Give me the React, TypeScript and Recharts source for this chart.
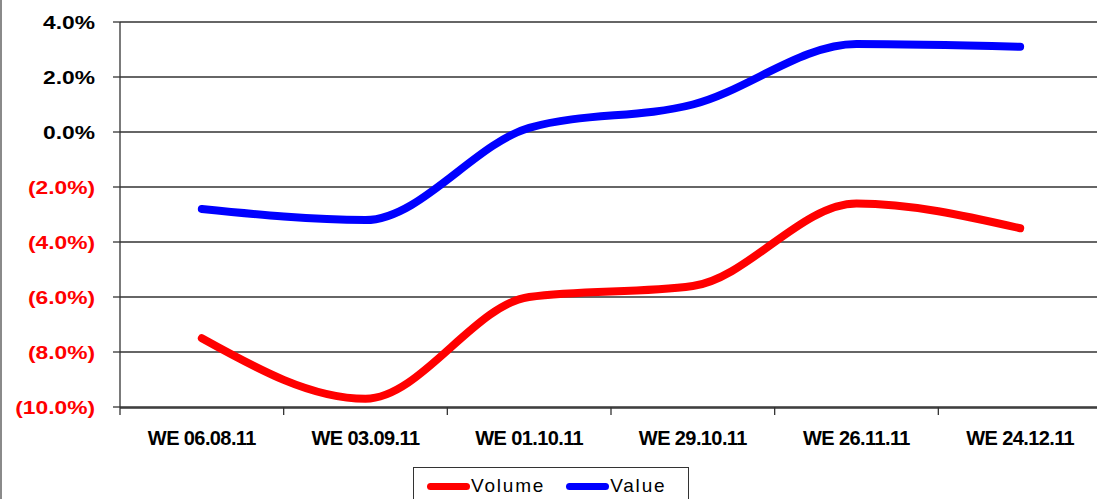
import React from "react";
import { LineChart, Line, XAxis, YAxis, CartesianGrid, Legend } from "recharts";

const weeks = ["WE 06.08.11", "WE 03.09.11", "WE 01.10.11", "WE 29.10.11", "WE 26.11.11", "WE 24.12.11"];
const volume = [-7.5, -9.7, -6.0, -5.6, -2.6, -3.5];
const value = [-2.8, -3.2, 0.15, 1.0, 3.2, 3.1];
const pctTicks = [-10, -8, -6, -4, -2, 0, 2, 4];
const edgeTicks = [0, 1, 2, 3, 4, 5, 6];

const series = [
  { key: "volume", name: "Volume", color: "#FF0000" },
  { key: "value", name: "Value", color: "#0000FF" },
];

// slot = middle of each week's band, used by the tick-mark axis
const data = weeks.map((week, i) => ({ week, slot: i + 0.5, volume: volume[i], value: value[i] }));

const FONT = "'Liberation Sans', Arial, sans-serif";

// negatives shown in red, accountancy style
const PctTick = ({ x, y, payload }: any) => {
  const v = payload.value as number;
  const neg = v < 0;
  const label = neg ? `(${Math.abs(v).toFixed(1)}%)` : `${v.toFixed(1)}%`;
  return (
    <text
      x={x}
      y={y}
      dy="0.355em"
      textAnchor="end"
      fill={neg ? "#FF0000" : "#000000"}
      fontSize={19}
      fontWeight="bold"
      fontFamily={FONT}
      transform={`translate(${x} 0) scale(1.2 1) translate(${-x} 0)`}
    >
      {label}
    </text>
  );
};

const NoLabel = () => <g />;

const LegendBox = () => (
  <div
    style={{
      width: 276,
      height: 42,
      boxSizing: "border-box",
      border: "1.5px solid #333",
      background: "#fff",
      display: "flex",
      alignItems: "center",
      paddingLeft: 13,
      paddingBottom: 4,
      fontFamily: FONT,
      fontSize: 19,
      color: "#000",
    }}
  >
    {series.map((s) => (
      <div key={s.key} style={{ display: "flex", alignItems: "center", marginRight: 21 }}>
        <span style={{ width: 43, height: 7, borderRadius: 4, background: s.color, display: "inline-block" }} />
        <span style={{ marginLeft: 1, letterSpacing: 1.8 }}>{s.name}</span>
      </div>
    ))}
  </div>
);

export default function App() {
  return (
    <div style={{ position: "absolute", left: 0, top: 0, width: 1097, height: 499, overflow: "hidden", background: "#fff" }}>
      <LineChart width={1102} height={499} data={data} margin={{ top: 22, right: 0, bottom: 51, left: 0 }}>
        <CartesianGrid vertical={false} stroke="#333" strokeWidth={1.3} />
        {/* tick marks between weeks */}
        <XAxis
          xAxisId="ax0"
          type="number"
          dataKey="slot"
          domain={[0, 6]}
          ticks={edgeTicks}
          interval={0}
          allowDataOverflow
          tick={<NoLabel />}
          axisLine={false}
          tickSize={8}
          height={1}
          tickLine={{ stroke: "#333", strokeWidth: 1.3 }}
        />
        <XAxis
          xAxisId="ax1"
          dataKey="week"
          scale="band"
          height={40}
          tickSize={0}
          tickMargin={23}
          interval={0}
          axisLine={{ stroke: "#333", strokeWidth: 1.3 }}
          tickLine={false}
          tick={{ fill: "#000", fontSize: 20, fontWeight: "bold", fontFamily: FONT, letterSpacing: -0.6 }}
        />
        <YAxis
          width={120}
          domain={[-10, 4]}
          ticks={pctTicks}
          tickSize={7}
          tickMargin={18}
          axisLine={{ stroke: "#333", strokeWidth: 1.3 }}
          tickLine={{ stroke: "#333", strokeWidth: 1.3 }}
          tick={<PctTick />}
        />
        <Legend
          layout="horizontal"
          verticalAlign="middle"
          align="center"
          content={<LegendBox />}
          wrapperStyle={{ left: 413, top: 467, width: 276, height: 42 }}
        />
        {series.map((s) => (
          <Line
            key={s.key}
            xAxisId="ax1"
            type="monotone"
            dataKey={s.key}
            name={s.name}
            stroke={s.color}
            strokeWidth={8}
            strokeLinecap="round"
            dot={false}
            activeDot={false}
            isAnimationActive={false}
          />
        ))}
      </LineChart>
      <div style={{ position: "absolute", left: 0, top: 0, width: 2, height: 499, background: "#8a8a8a" }} />
    </div>
  );
}
